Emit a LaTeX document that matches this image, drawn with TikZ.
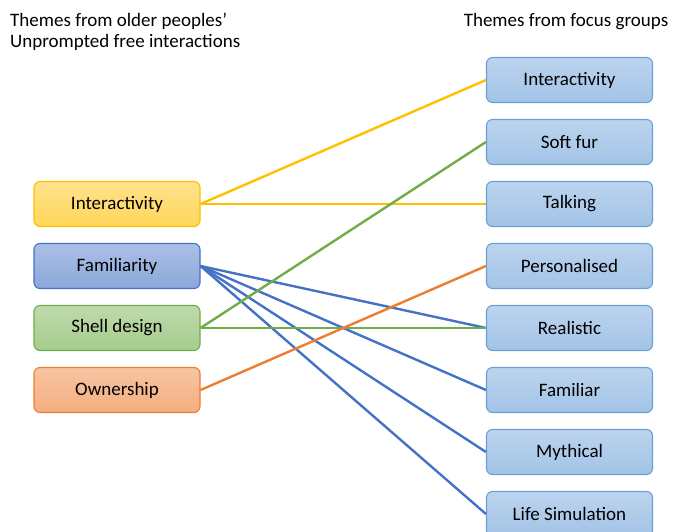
\documentclass[tikz,border=0pt]{standalone}
\usepackage{fontspec}
\setmainfont{Carlito}
\usetikzlibrary{positioning}

\definecolor{ylwLine}{HTML}{FFC000}
\definecolor{bluLine}{HTML}{4472C4}
\definecolor{grnLine}{HTML}{70AD47}
\definecolor{orgLine}{HTML}{ED7D31}
\definecolor{skyLine}{HTML}{6A9FD8}

\begin{document}
\begin{tikzpicture}[x=1pt, y=1pt, node distance=62pt, every node/.style={font=\fontsize{19}{21}\selectfont}]
    \tikzstyle{theme} = [rectangle, draw, line width=1.1pt, minimum width=166pt, minimum height=45pt, rounded corners=6pt, inner sep=0pt]
    \tikzstyle{yellowbox} = [theme, draw=ylwLine, top color=ylwLine!45, bottom color=ylwLine!65]
    \tikzstyle{bluebox} = [theme, draw=bluLine, top color=bluLine!45, bottom color=bluLine!62]
    \tikzstyle{greenbox} = [theme, draw=grnLine, top color=grnLine!45, bottom color=grnLine!62]
    \tikzstyle{orangebox} = [theme, draw=orgLine, top color=orgLine!45, bottom color=orgLine!62]
    \tikzstyle{focus} = [theme, draw=skyLine, top color=skyLine!45, bottom color=skyLine!62]
    \tikzstyle{link} = [line width=2.4pt]
    \useasboundingbox (0,0) rectangle (673,532);

    % headings
    \node (oldTitle) [anchor=north west, align=left, inner sep=0pt] at (10,519) {Themes from older peoples'\\Unprompted free interactions};
    \node (focusTitle) [anchor=base, inner sep=0pt] at (566,505) {Themes from focus groups};

    % older people themes
    \node (lInteract) [yellowbox] at (117,328) {Interactivity};
    \node (lFamiliar) [bluebox, below of=lInteract] {Familiarity};
    \node (lShell) [greenbox, below of=lFamiliar] {Shell design};
    \node (lOwner) [orangebox, below of=lShell] {Ownership};

    % focus group themes
    \node (rInteract) [focus] at (569.5,452) {Interactivity};
    \node (rSoftFur) [focus, below of=rInteract] {Soft fur};
    \node (rTalking) [focus, below of=rSoftFur] {Talking};
    \node (rPersonal) [focus, below of=rTalking] {Personalised};
    \node (rRealistic) [focus, below of=rPersonal] {Realistic};
    \node (rFamiliar) [focus, below of=rRealistic] {Familiar};
    \node (rMythical) [focus, below of=rFamiliar] {Mythical};
    \node (rLifeSim) [focus, below of=rMythical] {Life Simulation};

    \draw [link, ylwLine] (lInteract.east) -- (rInteract.west);
    \draw [link, ylwLine] (lInteract.east) -- (rTalking.west);
    \draw [link, bluLine] (lFamiliar.east) -- (rRealistic.west);
    \draw [link, bluLine] (lFamiliar.east) -- (rFamiliar.west);
    \draw [link, bluLine] (lFamiliar.east) -- (rMythical.west);
    \draw [link, bluLine] (lFamiliar.east) -- (rLifeSim.west);
    \draw [link, grnLine] (lShell.east) -- (rSoftFur.west);
    \draw [link, grnLine] (lShell.east) -- (rRealistic.west);
    \draw [link, orgLine] (lOwner.east) -- (rPersonal.west);

    \end{tikzpicture}
\end{document}
